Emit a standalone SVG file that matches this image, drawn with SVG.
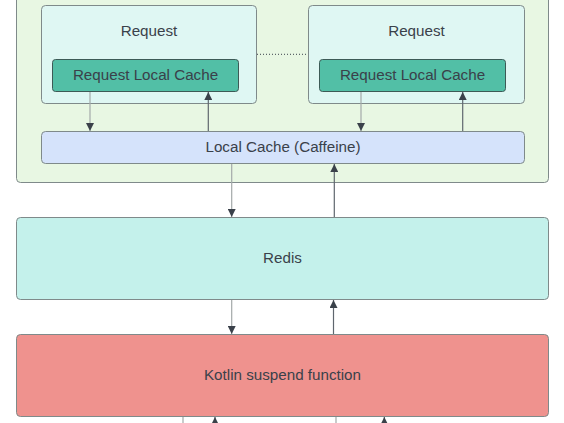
<svg xmlns="http://www.w3.org/2000/svg" width="564" height="423" viewBox="0 0 564 423">
<defs>
<style>
.t{font-family:"Liberation Sans",Arial,sans-serif;font-size:15.2px;fill:#3a414a;text-anchor:middle}
.box{stroke:#7f8a8a;stroke-width:1}
.dn{stroke:#a3a9a9;stroke-width:1.2;fill:none}
.up{stroke:#5f666e;stroke-width:1.2;fill:none}
</style>
<marker id="ah" viewBox="0 0 10 10" refX="10" refY="5" markerWidth="10" markerHeight="8" markerUnits="userSpaceOnUse" orient="auto">
<path d="M0,0 L10,5 L0,10 Z" fill="#3a414a"/>
</marker>
</defs>
<rect width="564" height="423" fill="#ffffff"/>
<g id="container">
<rect class="box" x="16.5" y="-10" width="532" height="192.5" rx="4" fill="#e8f7e3"/>
</g>
<g id="request1">
<rect class="box" x="41.5" y="5.5" width="215" height="98" rx="4" fill="#dff7f3"/>
<text class="t" x="149" y="36">Request</text>
</g>
<g id="request2">
<rect class="box" x="308.5" y="5.5" width="216" height="98" rx="4" fill="#dff7f3"/>
<text class="t" x="416.5" y="36">Request</text>
</g>
<g id="rlc1">
<rect x="52.5" y="59.5" width="186" height="32" rx="3" fill="#52bfa6" stroke="#3d5a56" stroke-width="1"/>
<text class="t" x="145.5" y="79.8">Request Local Cache</text>
</g>
<g id="rlc2">
<rect x="319.5" y="59.5" width="186" height="32" rx="3" fill="#52bfa6" stroke="#3d5a56" stroke-width="1"/>
<text class="t" x="412.5" y="79.8">Request Local Cache</text>
</g>
<g id="localcache">
<rect class="box" x="41.5" y="131.5" width="483" height="32" rx="4" fill="#d5e3fb"/>
<text class="t" x="283" y="152.3">Local Cache (Caffeine)</text>
</g>
<g id="redis">
<rect class="box" x="16.5" y="217.5" width="532" height="82" rx="4" fill="#c4f1eb"/>
<text class="t" x="282.5" y="262.5">Redis</text>
</g>
<g id="kotlin">
<rect class="box" x="16.5" y="334.5" width="532" height="82" rx="4" fill="#ef928e"/>
<text class="t" x="282.5" y="379.8">Kotlin suspend function</text>
</g>
<g id="connectors">
<line x1="257" y1="54.3" x2="308" y2="54.3" stroke="#3a414a" stroke-width="1" stroke-dasharray="1,2"/>
<line class="dn" x1="90" y1="92" x2="90" y2="131" marker-end="url(#ah)"/>
<line class="up" x1="208.3" y1="131" x2="208.3" y2="92" marker-end="url(#ah)"/>
<line class="dn" x1="361" y1="92" x2="361" y2="131" marker-end="url(#ah)"/>
<line class="up" x1="462.7" y1="131" x2="462.7" y2="92" marker-end="url(#ah)"/>
<line class="dn" x1="231.7" y1="164" x2="231.7" y2="217" marker-end="url(#ah)"/>
<line class="up" x1="334.3" y1="217" x2="334.3" y2="164" marker-end="url(#ah)"/>
<line class="dn" x1="231.7" y1="300" x2="231.7" y2="334" marker-end="url(#ah)"/>
<line class="up" x1="333.5" y1="334" x2="333.5" y2="300" marker-end="url(#ah)"/>
<line class="dn" x1="183" y1="417" x2="183" y2="440"/>
<line class="up" x1="215" y1="440" x2="215" y2="417" marker-end="url(#ah)"/>
<line class="dn" x1="336" y1="417" x2="336" y2="440"/>
<line class="up" x1="384.3" y1="440" x2="384.3" y2="417" marker-end="url(#ah)"/>
</g>
</svg>
